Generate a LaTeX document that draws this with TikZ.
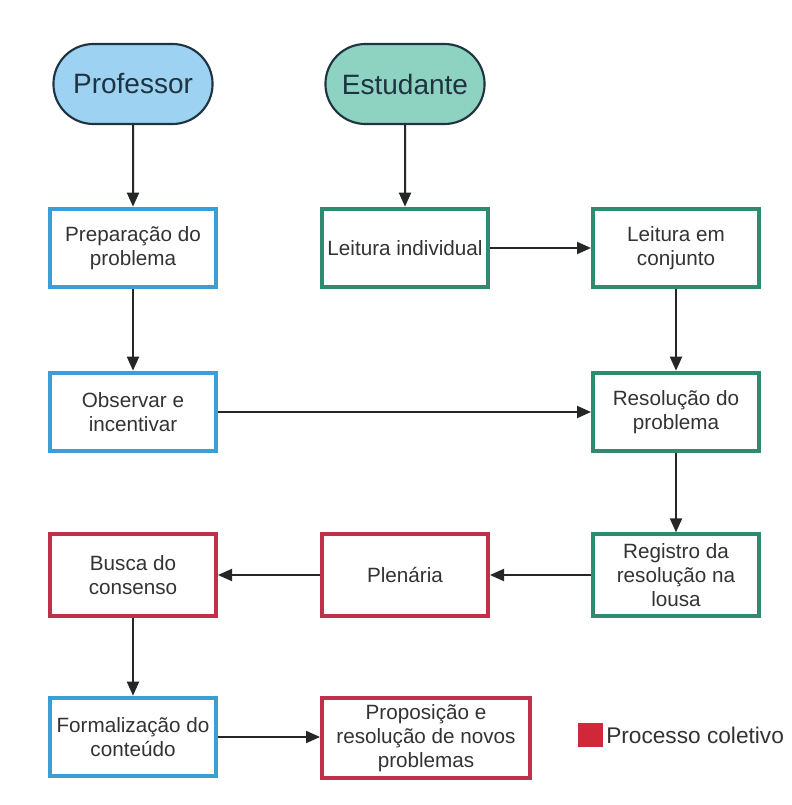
\documentclass[tikz,border=0pt]{standalone}
\usepackage{fontspec}
\setmainfont{Liberation Sans}
\usetikzlibrary{arrows.meta,shapes.misc}
\definecolor{txt}{HTML}{333333}
\definecolor{bluebd}{HTML}{3A9FD6}
\definecolor{bluefill}{HTML}{9DD2F2}
\definecolor{greenbd}{HTML}{2E8B70}
\definecolor{greenfill}{HTML}{8ED3C2}
\definecolor{redbd}{HTML}{C0304A}
\definecolor{redfill}{HTML}{D02838}
\definecolor{pillbd}{HTML}{1F3440}
\tikzset{
  pill/.style={rounded rectangle, draw=pillbd, line width=1.6pt, minimum width=126pt, minimum height=60pt, text=pillbd, font=\fontsize{21}{24}\selectfont},
  box/.style={rectangle, line width=3pt, minimum width=124.5pt, minimum height=59pt, align=center, text=txt, fill=white, font=\fontsize{15.5}{18}\selectfont, inner sep=2pt},
  bbox/.style={box, draw=bluebd},
  gbox/.style={box, draw=greenbd},
  rbox/.style={box, draw=redbd},
  arr/.style={draw=black!85, line width=1.5pt, -{Triangle[length=10.5pt,width=9pt]}},
}
\begin{document}
\begin{tikzpicture}[x=0.75pt,y=-0.75pt]
\useasboundingbox[fill=white] (0,0) rectangle (791,805);
\node[pill, fill=bluefill] (prof) at (133,84) {Professor};
\node[pill, fill=greenfill] (est) at (405,84) {Estudante};
\node[bbox] (prep) at (133,248) {Preparação do\\problema};
\node[gbox] (lind) at (405,248) {Leitura individual};
\node[gbox] (lconj) at (676,248) {Leitura em\\conjunto};
\node[bbox] (obs) at (133,412) {Observar e\\incentivar};
\node[gbox] (res) at (676,412) {Resolução do\\problema};
\node[rbox, minimum height=61pt] (busca) at (133,575) {Busca do\\consenso};
\node[rbox, minimum height=61pt] (plen) at (405,575) {Plenária};
\node[gbox, minimum height=61pt] (reg) at (676,575) {Registro da\\resolução na\\lousa};
\node[bbox] (form) at (133,737) {Formalização do\\conteúdo};
\node[rbox, minimum width=156pt, minimum height=59.5pt] (prop) at (426,738) {Proposição e\\resolução de novos\\problemas};
\node[rectangle, fill=redfill, minimum width=18.5pt, minimum height=18pt, inner sep=0pt] (leg) at (590.5,735) {};
\node[anchor=west, text=txt, font=\fontsize{17}{20}\selectfont, inner sep=0pt] (legtxt) at (606,735) {Processo coletivo};
\draw[arr] (prof) -- (prep);
\draw[arr] (est) -- (lind);
\draw[arr] (lind) -- (lconj);
\draw[arr] (prep) -- (obs);
\draw[arr] (lconj) -- (res);
\draw[arr] (obs) -- (res);
\draw[arr] (res) -- (reg);
\draw[arr] (reg) -- (plen);
\draw[arr] (plen) -- (busca);
\draw[arr] (busca) -- (form);
\draw[arr] (form.east) -- (prop.west |- form.east);
\end{tikzpicture}
\end{document}
